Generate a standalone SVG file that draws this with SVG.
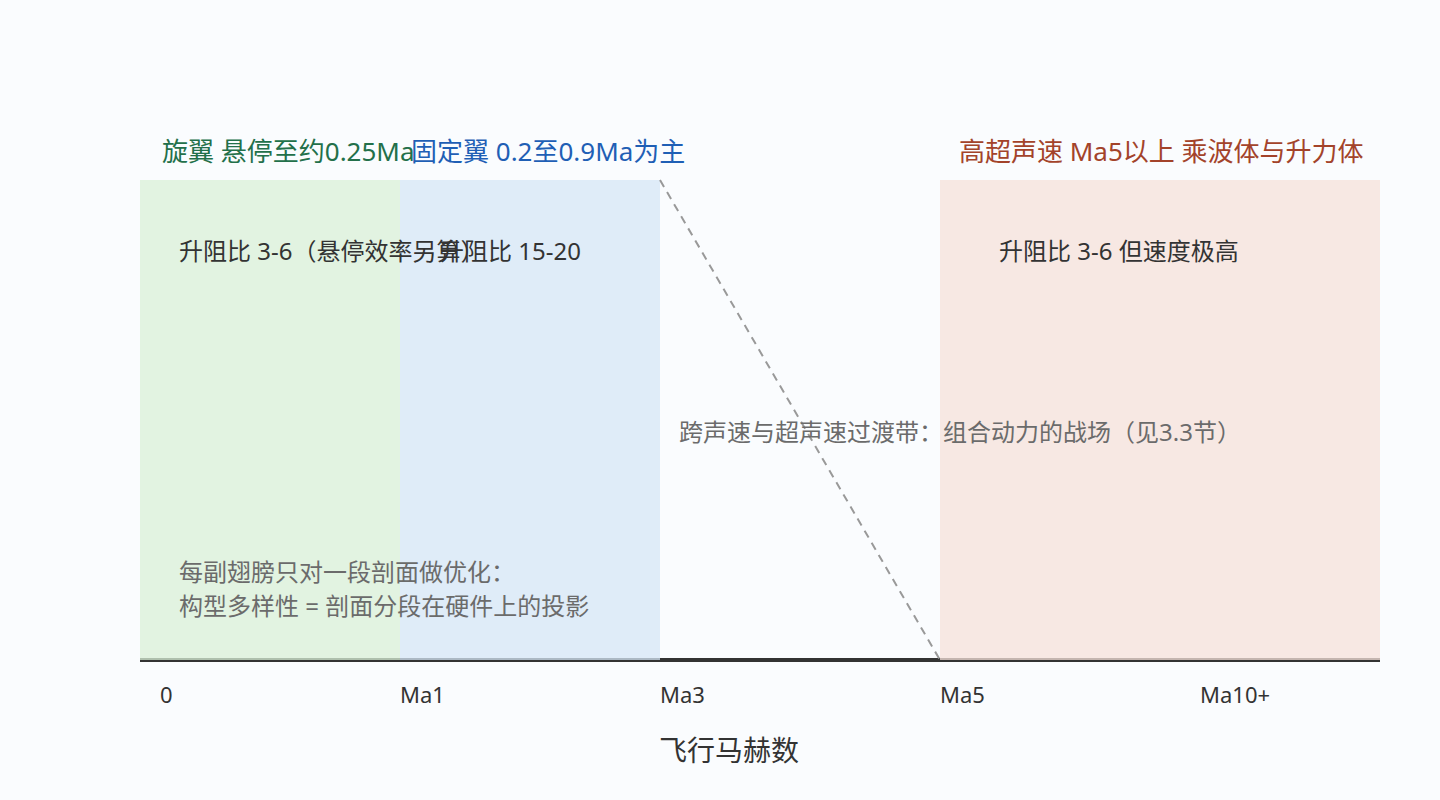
<svg xmlns="http://www.w3.org/2000/svg" width="1440" height="800" viewBox="0 0 1440 800">
  <style>
    text { font-family: "Noto Sans", "Noto Sans CJK SC", sans-serif; }
    .band { fill-opacity: 0.75; }
    .title { font-size: 26px; }
    .body { font-size: 24px; fill: #333333; }
    .note { font-size: 24px; fill: #6b6b6b; }
    .tick { font-size: 22px; fill: #333333; }
    .axis { stroke: #333333; stroke-width: 4; fill: none; }
    .dash { stroke: #999999; stroke-width: 2; stroke-dasharray: 8 6; fill: none; }
  </style>
  <rect x="0" y="0" width="1440" height="800" fill="#fafcfe"/>

  <g id="axis">
    <line class="axis" x1="140" y1="660" x2="1380" y2="660"/>
    <text class="tick" x="160" y="703">0</text>
    <text class="tick" x="400" y="703">Ma1</text>
    <text class="tick" x="660" y="703">Ma3</text>
    <text class="tick" x="940" y="703">Ma5</text>
    <text class="tick" x="1200" y="703">Ma10+</text>
    <text x="659" y="761" style="font-size:28px" fill="#333333">飞行马赫数</text>
  </g>

  <g id="rotor">
    <rect class="band" x="140" y="180" width="260" height="480" fill="#d9f0d7"/>
  </g>
  <g id="fixed">
    <rect class="band" x="400" y="180" width="260" height="480" fill="#d5e7f6"/>
  </g>
  <g id="hypersonic">
    <rect class="band" x="940" y="180" width="440" height="480" fill="#f6e1d9"/>
  </g>

  <g id="connectors">
    <line class="dash" x1="660" y1="180" x2="940" y2="660"/>
  </g>

  <g id="rotor-labels">
    <text class="title" x="162" y="161" fill="#23704a">旋翼 悬停至约0.25Ma</text>
    <text class="body" x="179" y="260">升阻比 3-6（悬停效率另算）</text>
  </g>
  <g id="fixed-labels">
    <text class="title" x="411" y="161" fill="#1f5fb5">固定翼 0.2至0.9Ma为主</text>
    <text class="body" x="440" y="260">升阻比 15-20</text>
  </g>
  <g id="hypersonic-labels">
    <text class="title" x="959" y="161" fill="#a3432a">高超声速 Ma5以上 乘波体与升力体</text>
    <text class="body" x="999" y="260">升阻比 3-6 但速度极高</text>
  </g>
  <g id="transition">
    <text class="note" x="679" y="441">跨声速与超声速过渡带：组合动力的战场（见3.3节）</text>
  </g>
  <g id="summary">
    <text class="note" x="179" y="581">每副翅膀只对一段剖面做优化：</text>
    <text class="note" x="179" y="615">构型多样性 = 剖面分段在硬件上的投影</text>
  </g>
</svg>
